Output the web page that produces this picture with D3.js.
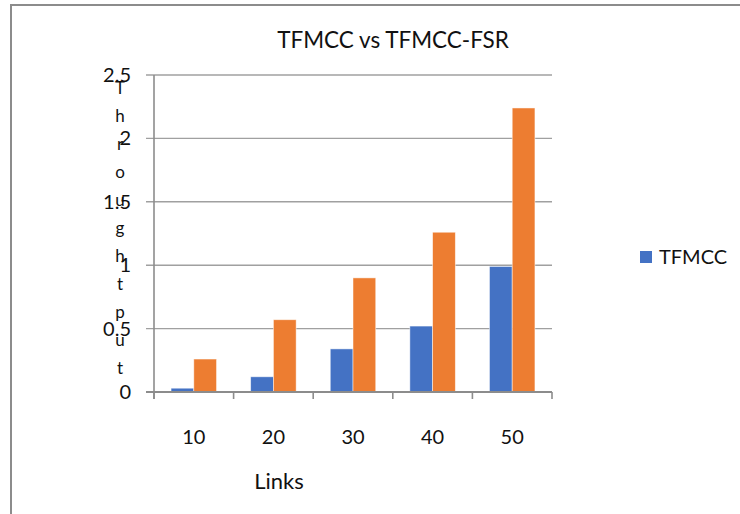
<!DOCTYPE html>
<html>
<head>
<meta charset="utf-8">
<script src="https://cdn.jsdelivr.net/npm/d3@7"></script>
<style>
  html, body { margin: 0; padding: 0; background: #fff; }
  svg { display: block; font-family: Lato, "Open Sans", sans-serif; }
</style>
</head>
<body>
<svg id="chart" width="740" height="514"></svg>
<script>
const categories = ["10", "20", "30", "40", "50"];
const seriesNames = ["TFMCC", "TFMCC-FSR"];
const tfmcc = [0.03, 0.12, 0.34, 0.52, 0.99];
const tfmccFsr = [0.26, 0.57, 0.90, 1.26, 2.24];
const yTicks = [0, 0.5, 1, 1.5, 2, 2.5];
const yTickLabels = ["0", "0.5", "1", "1.5", "2", "2.5"];
const title = "TFMCC vs TFMCC-FSR";
const xTitle = "Links";
const yTitle = "Throughtput";
const legendItems = ["TFMCC"];

const colors = { "TFMCC": "#4472C4", "TFMCC-FSR": "#ED7D31" };
const seriesValues = { "TFMCC": tfmcc, "TFMCC-FSR": tfmccFsr };

const svg = d3.select("#chart");
const plotLeft = 154, plotRight = 552, plotTop = 75, plotBottom = 392;

// frame border (top and left visible)
svg.append("line").attr("x1", 11).attr("x2", 740).attr("y1", 5).attr("y2", 5)
  .attr("stroke", "#8c8c8c").attr("stroke-width", 2);
svg.append("line").attr("x1", 11).attr("x2", 11).attr("y1", 4).attr("y2", 514)
  .attr("stroke", "#8c8c8c").attr("stroke-width", 2);

const x0 = d3.scaleBand().domain(categories).range([plotLeft, plotRight]).paddingInner(0).paddingOuter(0);
const x1 = d3.scaleBand().domain(seriesNames).range([0, x0.bandwidth()]).paddingInner(0).paddingOuter(0.75);
const y = d3.scaleLinear().domain([0, 2.5]).range([plotBottom, plotTop]);

// gridlines
svg.append("g").selectAll("line").data(yTicks.filter(d => d > 0)).join("line")
  .attr("x1", plotLeft - 8).attr("x2", plotRight)
  .attr("y1", d => y(d)).attr("y2", d => y(d))
  .attr("stroke", "#a0a0a0").attr("stroke-width", 1.4);

// bars
const groups = svg.append("g").selectAll("g").data(categories).join("g")
  .attr("transform", d => `translate(${x0(d)},0)`);
groups.selectAll("rect").data((c, i) => seriesNames.map(s => ({ s, v: seriesValues[s][i] }))).join("rect")
  .attr("x", d => x1(d.s)).attr("width", x1.bandwidth())
  .attr("y", d => y(d.v)).attr("height", d => y(0) - y(d.v))
  .attr("fill", d => colors[d.s])
  .attr("stroke", "rgba(255,255,255,0.6)").attr("stroke-width", 0.8);

// y axis line
svg.append("line").attr("x1", plotLeft).attr("x2", plotLeft).attr("y1", plotTop).attr("y2", plotBottom + 7)
  .attr("stroke", "#8c8c8c").attr("stroke-width", 1.6);
// x axis line with ticks
svg.append("line").attr("x1", plotLeft - 8).attr("x2", plotRight).attr("y1", plotBottom).attr("y2", plotBottom)
  .attr("stroke", "#8c8c8c").attr("stroke-width", 2);
const tickPos = categories.map(c => x0(c)).concat([plotRight]);
svg.append("g").selectAll("line").data(tickPos).join("line")
  .attr("x1", d => d).attr("x2", d => d).attr("y1", plotBottom).attr("y2", plotBottom + 7)
  .attr("stroke", "#8c8c8c").attr("stroke-width", 1.6);

// y tick labels
svg.append("g").selectAll("text").data(yTicks).join("text")
  .attr("x", 131).attr("y", d => y(d)).attr("dy", "0.35em")
  .attr("text-anchor", "end").attr("font-size", 20).attr("fill", "#111")
  .text((d, i) => yTickLabels[i]);

// x tick labels
svg.append("g").selectAll("text").data(categories).join("text")
  .attr("x", d => x0(d) + x0.bandwidth() / 2).attr("y", 437).attr("dy", "0.35em")
  .attr("text-anchor", "middle").attr("font-size", 20).attr("fill", "#111")
  .text(d => d);

// title
svg.append("text").attr("x", 393).attr("y", 40).attr("dy", "0.35em")
  .attr("text-anchor", "middle").attr("font-size", 22.5).attr("fill", "#111").text(title);

// x title
svg.append("text").attr("x", 279).attr("y", 481).attr("dy", "0.35em")
  .attr("text-anchor", "middle").attr("font-size", 22).attr("fill", "#111").text(xTitle);

// y title, stacked letters
svg.append("g").selectAll("text").data(yTitle.split("")).join("text")
  .attr("x", 120).attr("y", (d, i) => 88 + i * 28).attr("dy", "0.35em")
  .attr("text-anchor", "middle").attr("font-size", 17).attr("fill", "#111")
  .text(d => d);

// legend
const lg = svg.append("g").selectAll("g").data(legendItems).join("g")
  .attr("transform", (d, i) => `translate(640,${251 + i * 24})`);
lg.append("rect").attr("width", 12).attr("height", 12).attr("fill", d => colors[d]);
lg.append("text").attr("x", 19).attr("y", 6).attr("dy", "0.35em")
  .attr("font-size", 20).attr("fill", "#111").text(d => d);
</script>
</body>
</html>
